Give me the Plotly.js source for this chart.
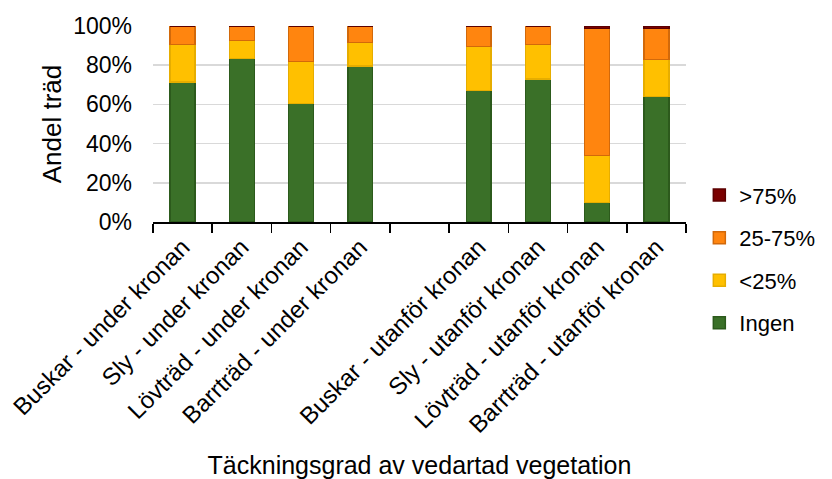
<!DOCTYPE html>
<html><head><meta charset="utf-8">
<script src="https://cdn.plot.ly/plotly-3.0.1.min.js"></script>
<style>body{margin:0;background:#fff}#c{width:832px;height:479px}</style>
</head><body><div id="c"></div>
<script>
const categories = ["Buskar - under kronan","Sly - under kronan","Lövträd - under kronan","Barrträd - under kronan"," ","Buskar - utanför kronan","Sly - utanför kronan","Lövträd - utanför kronan","Barrträd - utanför kronan"];
const ingen   = [71.5, 83.5, 60.5, 79.5, null, 67, 73, 10, 64];
const under25 = [19, 9, 21.5, 12, null, 22.5, 17.5, 24, 19];
const mid     = [9.5, 7.5, 18, 8.5, null, 10.5, 9.5, 64.7, 15.7];
const over75  = [0, 0, 0, 0, null, 0, 0, 1.3, 1.3];
const seriesNames = ["Ingen","<25%","25-75%",">75%"];

const fills = ["#3a7028","#ffc000","#ff850f","#7b0000"];
const lines = ["#2c5a1c","#e6ad00","#d2690a","#5c0000"];
const vals = [ingen, under25, mid, over75];
const traces = vals.map((v,i)=>({
  type:"bar", x:categories, y:v, name:seriesNames[i], legendgroup:"g"+i, legendrank:10-i,
  marker:{color:fills[i], line:{color:lines[i], width:1.5}},
  hoverinfo:"skip"
}));
const layout = {
  width:832, height:479,
  margin:{l:153, r:142, t:26, b:257},
  barmode:"stack", bargap:0.58,
  font:{family:"Liberation Sans, Arial, sans-serif", color:"#000", size:23},
  paper_bgcolor:"#fff", plot_bgcolor:"#fff",
  showlegend:true,
  legend:{traceorder:"grouped", tracegroupgap:11, x:1.025, xanchor:"left", y:-0.19, yanchor:"middle",
    font:{size:22}, itemwidth:30, borderwidth:0},
  xaxis:{type:"category", tickangle:-45, showline:true, linecolor:"#000", linewidth:1.5,
    ticks:"outside", tickson:"boundaries", ticklen:9, tickcolor:"#000", tickwidth:1.5,
    tickfont:{size:24}, showgrid:false, automargin:false,
    title:{text:"Täckningsgrad av vedartad vegetation", font:{size:25}, standoff:32}},
  yaxis:{range:[0,100], dtick:20, ticksuffix:"%", showgrid:true, gridcolor:"#d9d9d9", gridwidth:1.5,
    zeroline:false, showline:false, ticks:"", ticklabelstandoff:20, tickfont:{size:23}, automargin:false,
    title:{text:"Andel träd", font:{size:26}, standoff:4}}
};
Plotly.newPlot("c", traces, layout, {staticPlot:true});
</script></body></html>
